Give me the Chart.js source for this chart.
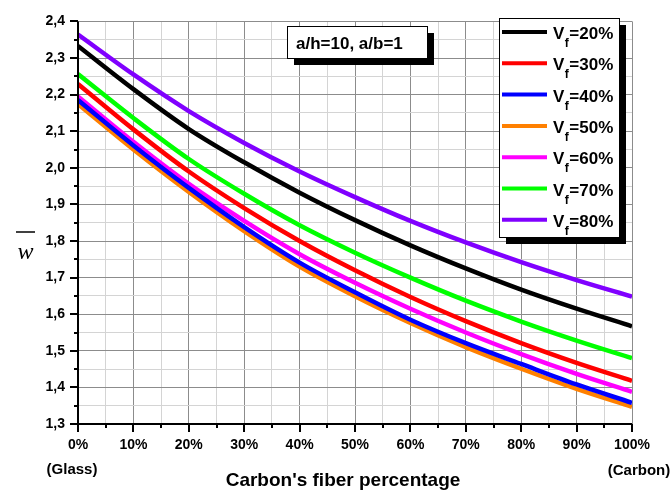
<!DOCTYPE html>
<html>
<head>
<meta charset="utf-8">
<script src="https://cdn.jsdelivr.net/npm/chart.js@4/dist/chart.umd.min.js"></script>
<style>
  body { margin: 0; background: #fff; }
  canvas { display: block; }
</style>
</head>
<body>
<canvas id="chart" width="672" height="490"></canvas>
<script>
// carbon fiber share (%) along the x axis
const carbonPct = [0, 10, 20, 30, 40, 50, 60, 70, 80, 90, 100];

// one series per fiber volume fraction
const vfLabels = ["20%", "30%", "40%", "50%", "60%", "70%", "80%"];
const vf20 = [2.333, 2.215, 2.106, 2.015, 1.932, 1.857, 1.788, 1.725, 1.667, 1.615, 1.567];
const vf30 = [2.229, 2.105, 1.990, 1.890, 1.800, 1.720, 1.647, 1.581, 1.521, 1.467, 1.418];
const vf40 = [2.185, 2.061, 1.945, 1.838, 1.741, 1.660, 1.585, 1.521, 1.464, 1.408, 1.358];
const vf50 = [2.174, 2.050, 1.934, 1.827, 1.730, 1.649, 1.576, 1.510, 1.451, 1.396, 1.347];
const vf60 = [2.195, 2.071, 1.956, 1.855, 1.764, 1.686, 1.615, 1.550, 1.491, 1.437, 1.388];
const vf70 = [2.256, 2.136, 2.024, 1.929, 1.843, 1.768, 1.700, 1.637, 1.580, 1.528, 1.480];
const vf80 = [2.364, 2.255, 2.155, 2.068, 1.990, 1.920, 1.855, 1.796, 1.742, 1.693, 1.648];

const seriesValues = [vf20, vf30, vf40, vf50, vf60, vf70, vf80];
const seriesColors = ["#000000", "#ff0000", "#0000ff", "#ff8000", "#ff00ff", "#00ff00", "#8000ff"];

const FONT = "'Liberation Sans', Arial, sans-serif";

function isMajorX(v) { return Math.round(v) % 10 === 0; }
function isMajorY(v) { return Math.round(v * 100) % 10 === 0; }

// axes, ticks, titles, annotation box and legend box
const decorPlugin = {
    id: "decor",
    afterDraw(chart) {
        const ctx = chart.ctx;
        const xs = chart.scales.x;
        const ys = chart.scales.y;
        const area = chart.chartArea;

        ctx.save();
        ctx.strokeStyle = "#000";

        // tick marks
        ctx.lineWidth = 2;
        xs.ticks.forEach(t => {
            const px = Math.round(xs.getPixelForValue(t.value));
            const len = isMajorX(t.value) ? 8 : 4;
            ctx.beginPath();
            ctx.moveTo(px, area.bottom);
            ctx.lineTo(px, area.bottom + len);
            ctx.stroke();
        });
        ys.ticks.forEach(t => {
            const py = Math.round(ys.getPixelForValue(t.value));
            const len = isMajorY(t.value) ? 8 : 4;
            ctx.beginPath();
            ctx.moveTo(area.left, py);
            ctx.lineTo(area.left - len, py);
            ctx.stroke();
        });

        // left and bottom axis lines
        ctx.lineWidth = 2;
        ctx.beginPath();
        ctx.moveTo(area.left, area.top);
        ctx.lineTo(area.left, area.bottom);
        ctx.lineTo(area.right, area.bottom);
        ctx.stroke();

        // axis titles
        ctx.fillStyle = "#000";
        ctx.textAlign = "center";
        ctx.textBaseline = "alphabetic";
        ctx.font = "bold 19px " + FONT;
        ctx.fillText("Carbon's fiber percentage", 343, 486);
        ctx.font = "bold 15px " + FONT;
        ctx.fillText("(Glass)", 72, 474);
        ctx.fillText("(Carbon)", 639, 475);

        ctx.font = "italic 24px 'Liberation Serif', 'DejaVu Serif', serif";
        ctx.fillText("w", 25.5, 259);
        ctx.lineWidth = 1.5;
        ctx.beginPath();
        ctx.moveTo(16, 232);
        ctx.lineTo(35, 232);
        ctx.stroke();

        // annotation box
        drawShadowBox(ctx, 287, 26, 140, 32);
        ctx.fillStyle = "#000";
        ctx.textAlign = "left";
        ctx.font = "bold 17px " + FONT;
        ctx.fillText("a/h=10, a/b=1", 296, 49);

        // legend box
        drawShadowBox(ctx, 499, 18, 120, 219);
        chart.data.datasets.forEach((ds, i) => {
            const cy = 32 + i * 31.3;
            ctx.strokeStyle = ds.borderColor;
            ctx.lineWidth = 4;
            ctx.beginPath();
            ctx.moveTo(502, cy);
            ctx.lineTo(547, cy);
            ctx.stroke();

            ctx.fillStyle = "#000";
            ctx.textAlign = "left";
            ctx.font = "bold 17px " + FONT;
            ctx.fillText("V", 553, cy + 7);
            const vw = ctx.measureText("V").width;
            ctx.font = "bold 12px " + FONT;
            ctx.fillText("f", 553 + vw + 0.5, cy + 15);
            const fw = ctx.measureText("f").width;
            ctx.font = "bold 17px " + FONT;
            ctx.fillText("=" + vfLabels[i], 553 + vw + fw + 1, cy + 7);
        });

        ctx.restore();
    }
};

function drawShadowBox(ctx, x, y, w, h) {
    ctx.fillStyle = "#000";
    ctx.fillRect(x + 7, y + 7, w, h);
    ctx.fillStyle = "#fff";
    ctx.fillRect(x, y, w, h);
    ctx.strokeStyle = "#000";
    ctx.lineWidth = 1;
    ctx.strokeRect(x + 0.5, y + 0.5, w, h);
}

const datasets = seriesValues.map((vals, i) => ({
    label: "Vf=" + vfLabels[i],
    data: carbonPct.map((x, j) => ({ x: x, y: vals[j] })),
    borderColor: seriesColors[i],
    backgroundColor: seriesColors[i],
    borderWidth: 4.5,
    pointRadius: 0,
    cubicInterpolationMode: "monotone",
    fill: false
}));

new Chart(document.getElementById("chart"), {
    type: "line",
    data: { datasets: datasets },
    plugins: [decorPlugin],
    options: {
        responsive: false,
        animation: false,
        layout: { padding: { top: 20, right: 40, left: 0, bottom: 0 } },
        plugins: {
            legend: { display: false },
            tooltip: { enabled: false }
        },
        scales: {
            x: {
                type: "linear",
                min: 0,
                max: 100,
                afterFit(scale) { scale.height = 66; },
                border: { display: false },
                grid: {
                    drawTicks: false,
                    lineWidth: 1,
                    color: ctx => isMajorX(ctx.tick.value) ? "#8c8c8c" : "#d4d4d4"
                },
                ticks: {
                    stepSize: 5,
                    autoSkip: false,
                    maxRotation: 0,
                    padding: 13,
                    color: "#000",
                    font: { family: FONT, size: 14, weight: "bold" },
                    callback: v => isMajorX(v) ? Math.round(v) + "%" : ""
                }
            },
            y: {
                min: 1.3,
                max: 2.4,
                afterFit(scale) { scale.width = 78; },
                border: { display: false },
                grid: {
                    drawTicks: false,
                    lineWidth: 1,
                    color: ctx => isMajorY(ctx.tick.value) ? "#8c8c8c" : "#d4d4d4"
                },
                ticks: {
                    stepSize: 0.05,
                    autoSkip: false,
                    padding: 13,
                    color: "#000",
                    font: { family: FONT, size: 14, weight: "bold" },
                    callback: v => isMajorY(v) ? v.toFixed(1).replace(".", ",") : ""
                }
            }
        }
    }
});
</script>
</body>
</html>
